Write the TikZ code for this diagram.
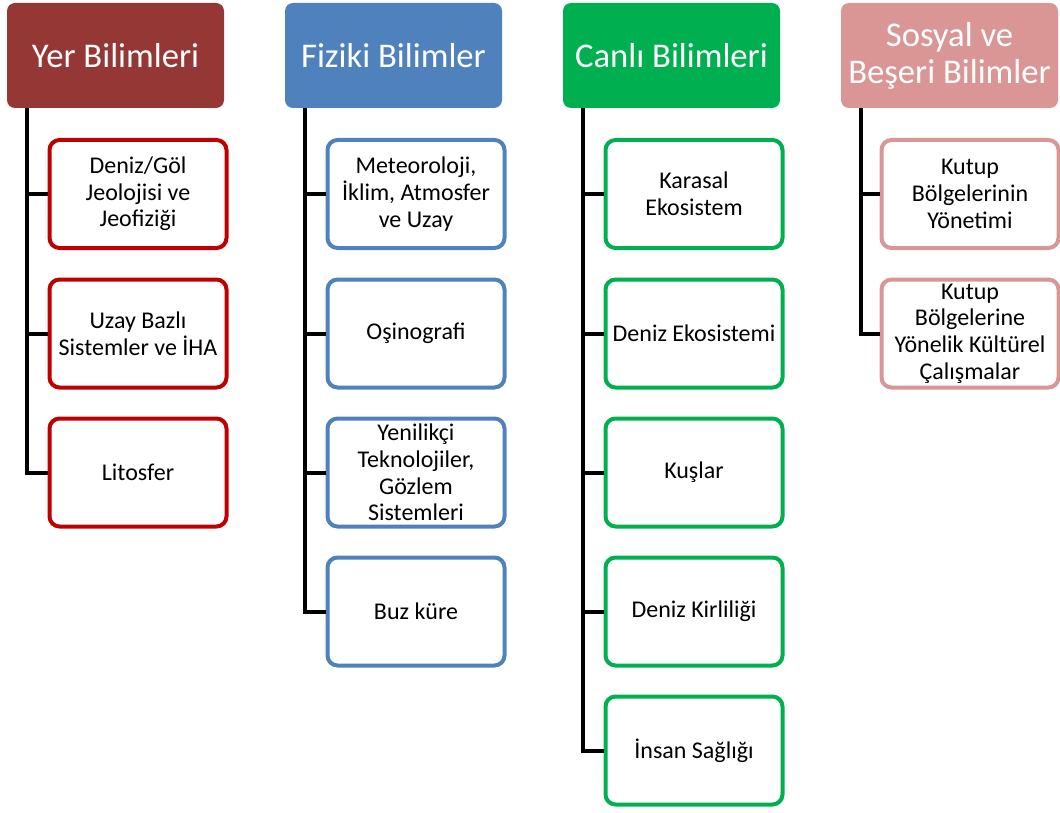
\documentclass[tikz,border=0pt]{standalone}
\usepackage{fontspec}
\setmainfont{Carlito}
\usetikzlibrary{positioning}

\definecolor{yercol}{HTML}{953735}
\definecolor{yerline}{HTML}{C00000}
\definecolor{fizcol}{HTML}{4F81BD}
\definecolor{canlicol}{HTML}{00B050}
\definecolor{sosyalcol}{HTML}{D99694}

\tikzset{
    header/.style={rectangle, rounded corners=6pt, minimum width=162.75pt,
        minimum height=78.75pt, inner sep=1pt, align=center, text=white,
        font=\fontsize{26}{27.75}\selectfont},
    topic/.style={rectangle, draw, line width=3pt, rounded corners=7.5pt, fill=white,
        minimum width=132.75pt, minimum height=81pt, inner sep=0pt, align=center,
        text=black, font=\fontsize{18}{20}\selectfont},
    trunk/.style={draw=black, line width=3pt}
}

\begin{document}
\begin{tikzpicture}[x=0.75pt, y=-0.75pt]
    \useasboundingbox (0,0) rectangle (1060,813);

    % Headers
    \node[header, fill=yercol] (yer) at (115.5,55.5) {Yer Bilimleri};
    \node[header, fill=fizcol] (fiz) at (393.5,55.5) {Fiziki Bilimler};
    \node[header, fill=canlicol] (canli) at (671.5,55.5) {Canlı Bilimleri};
    \node[header, fill=sosyalcol] (sosyal) at (949.5,55.5) {Sosyal ve\\Beşeri Bilimler};

    % Yer Bilimleri
    \node[topic, draw=yerline] (yer1) at (138,194) {Deniz/Göl\\Jeolojisi ve\\Jeofiziği};
    \node[topic, draw=yerline] (yer2) at (138,333.5) {Uzay Bazlı\\Sistemler ve İHA};
    \node[topic, draw=yerline] (yer3) at (138,472.5) {Litosfer};

    % Fiziki Bilimler
    \node[topic, draw=fizcol] (fiz1) at (416,194) {Meteoroloji,\\İklim, Atmosfer\\ve Uzay};
    \node[topic, draw=fizcol] (fiz2) at (416,333.5) {Oşinografi};
    \node[topic, draw=fizcol] (fiz3) at (416,472.5) {Yenilikçi\\Teknolojiler,\\Gözlem\\Sistemleri};
    \node[topic, draw=fizcol] (fiz4) at (416,611.5) {Buz küre};

    % Canli Bilimleri
    \node[topic, draw=canlicol] (canli1) at (694,194) {Karasal\\Ekosistem};
    \node[topic, draw=canlicol] (canli2) at (694,333.5) {Deniz Ekosistemi};
    \node[topic, draw=canlicol] (canli3) at (694,472.5) {Kuşlar};
    \node[topic, draw=canlicol] (canli4) at (694,611.5) {Deniz Kirliliği};
    \node[topic, draw=canlicol] (canli5) at (694,750.5) {İnsan Sağlığı};

    % Sosyal ve Beseri Bilimler
    \node[topic, draw=sosyalcol] (sosyal1) at (970,194) {Kutup\\Bölgelerinin\\Yönetimi};
    \node[topic, draw=sosyalcol] (sosyal2) at (970,333.5) {Kutup\\Bölgelerine\\Yönelik Kültürel\\Çalışmalar};

    % Trunks
    \draw[trunk] ([xshift=15pt]yer.south west) |- (yer3.west);
    \draw[trunk] ([xshift=15pt]yer.south west) |- (yer1.west);
    \draw[trunk] ([xshift=15pt]yer.south west) |- (yer2.west);

    \draw[trunk] ([xshift=15pt]fiz.south west) |- (fiz4.west);
    \draw[trunk] ([xshift=15pt]fiz.south west) |- (fiz1.west);
    \draw[trunk] ([xshift=15pt]fiz.south west) |- (fiz2.west);
    \draw[trunk] ([xshift=15pt]fiz.south west) |- (fiz3.west);

    \draw[trunk] ([xshift=15pt]canli.south west) |- (canli5.west);
    \draw[trunk] ([xshift=15pt]canli.south west) |- (canli1.west);
    \draw[trunk] ([xshift=15pt]canli.south west) |- (canli2.west);
    \draw[trunk] ([xshift=15pt]canli.south west) |- (canli3.west);
    \draw[trunk] ([xshift=15pt]canli.south west) |- (canli4.west);

    \draw[trunk] ([xshift=15pt]sosyal.south west) |- (sosyal2.west);
    \draw[trunk] ([xshift=15pt]sosyal.south west) |- (sosyal1.west);
\end{tikzpicture}
\end{document}
